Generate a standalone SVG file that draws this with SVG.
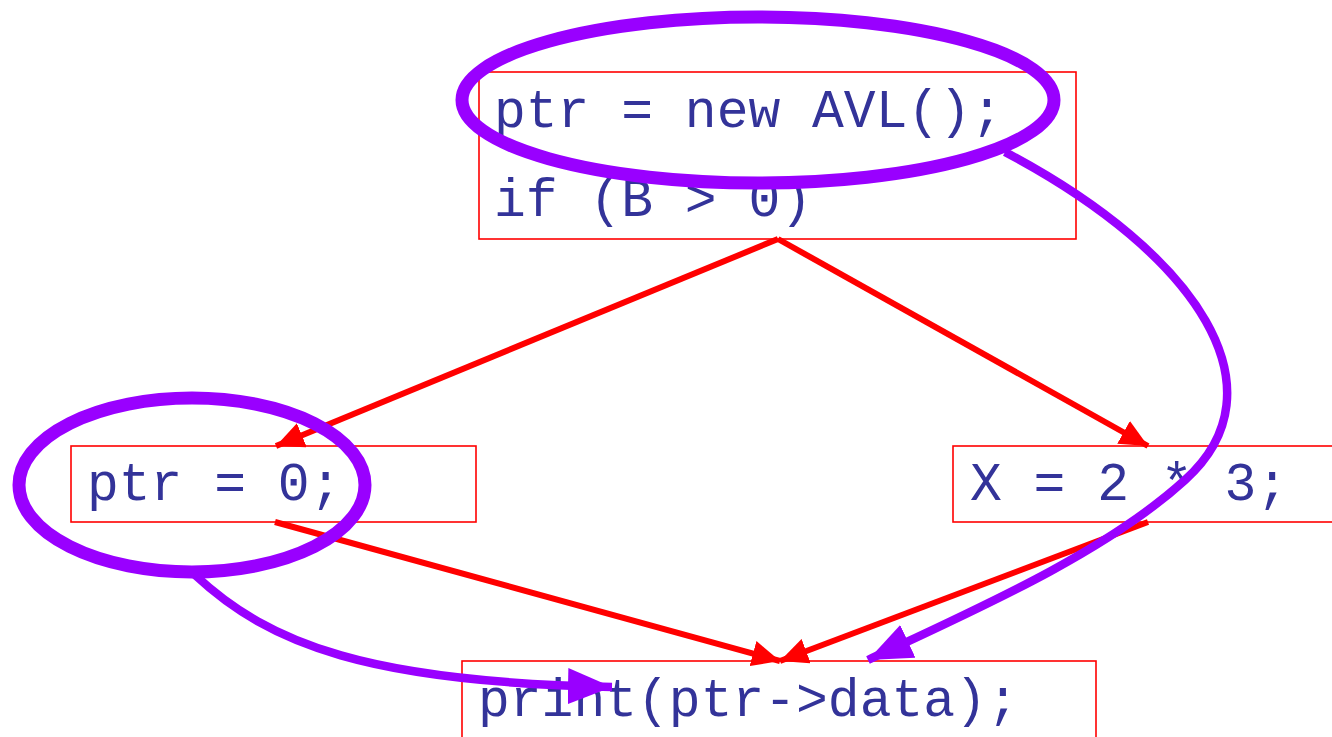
<svg xmlns="http://www.w3.org/2000/svg" width="1332" height="737" viewBox="0 0 1332 737">
<style>
.box{fill:none;stroke:#ff0000;stroke-width:1.6}
.code{font-family:"Liberation Mono","Courier New",monospace;font-size:53px;fill:#333399}
.red{fill:none;stroke:#ff0000;stroke-width:6}
.pur{fill:none;stroke:#9900ff;stroke-width:8.5}
.ring{fill:none;stroke:#9900ff;stroke-width:13}
</style>
<defs>
<marker id="ra" markerUnits="userSpaceOnUse" markerWidth="30" markerHeight="26" refX="28" refY="13" orient="auto"><path d="M0,0 L28,13 L0,26 Z" fill="#ff0000"/></marker>
<marker id="pa" markerUnits="userSpaceOnUse" markerWidth="46" markerHeight="36" refX="44" refY="18" orient="auto"><path d="M0,0 L44,18 L0,36 Z" fill="#9900ff"/></marker>
</defs>
<rect width="1332" height="737" fill="#ffffff"/>
<g id="node-top"><rect class="box" x="479" y="72" width="597" height="167"/><text class="code" x="494" y="127">ptr = new AVL();</text><text class="code" x="494" y="216">if (B &gt; 0)</text></g>
<g id="node-left"><rect class="box" x="71" y="446" width="405" height="76"/><text class="code" x="87" y="500">ptr = 0;</text></g>
<g id="node-right"><rect class="box" x="953" y="446" width="385" height="76"/><text class="code" x="970" y="500">X = 2 * 3;</text></g>
<g id="node-bottom"><rect class="box" x="462" y="661" width="634" height="90"/><text class="code" x="478" y="716">print(ptr-&gt;data);</text></g>
<g id="connectors">
<line class="red" x1="778" y1="239" x2="276" y2="446" marker-end="url(#ra)"/>
<line class="red" x1="778" y1="239" x2="1148" y2="446" marker-end="url(#ra)"/>
<line class="red" x1="275" y1="522" x2="780" y2="661" marker-end="url(#ra)"/>
<line class="red" x1="1148" y1="522" x2="780" y2="661" marker-end="url(#ra)"/>
<ellipse class="ring" cx="758" cy="100" rx="296" ry="83"/>
<ellipse class="ring" cx="192" cy="485" rx="173" ry="87"/>
<path class="pur" d="M1005,152 C1200,255 1285,390 1185,480 C1105,553 975,610 868,660" marker-end="url(#pa)"/>
<path class="pur" d="M195,575 C270,645 370,682 612,687" marker-end="url(#pa)"/>
</g>
</svg>
